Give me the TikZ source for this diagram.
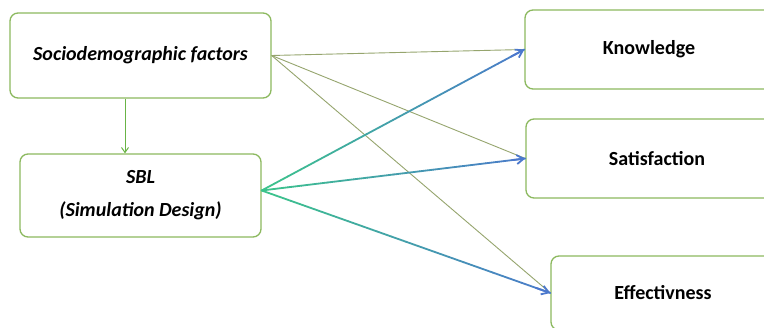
\documentclass[tikz,border=0pt]{standalone}
\usepackage{fontspec}
\setmainfont{Carlito}
\usetikzlibrary{calc,arrows.meta}
\definecolor{boxgreen}{RGB}{140,185,95}
\definecolor{socline}{RGB}{150,165,110}
\definecolor{arrgreen}{RGB}{105,180,70}
\definecolor{gstart}{RGB}{60,195,140}
\definecolor{gend}{RGB}{75,120,205}
\newcommand\gradarrow[2]{%
  \foreach \i in {0,...,19}{%
    \pgfmathtruncatemacro\p{\i*5}%
    \pgfmathsetmacro\a{\i/20}%
    \pgfmathsetmacro\b{(\i+1)/20}%
    \draw[gradline, color=gend!\p!gstart] ($(#1)!\a!(#2)$) -- ($(#1)!\b!(#2)$);
  }%
  \draw[gradline, gend, -{Straight Barb[length=7pt,width=9pt]}] ($(#1)!0.95!(#2)$) -- (#2);
}
\begin{document}
\begin{tikzpicture}[x=1pt,y=-1pt,
  box/.style={draw=boxgreen,line width=1.3pt,rounded corners=8pt,inner sep=0pt,
    font=\fontsize{20}{33}\selectfont, align=center},
  gradline/.style={line width=1.8pt,line cap=round},
  thinline/.style={socline,line width=0.9pt}]
\useasboundingbox (0,0) rectangle (764,328);
\clip (0,0) rectangle (764,328);
\fill[white] (0,0) rectangle (764,328);
\node[box,minimum width=261pt,minimum height=85pt] (soc) at (140.5,55.5)
  {\bfseries\itshape Sociodemographic factors};
\node[box,minimum width=241pt,minimum height=83pt] (sbl) at (140.5,195.5)
  {\bfseries\itshape SBL\\\bfseries\itshape (Simulation Design)};
\node[box,minimum width=248pt,minimum height=79pt] (kno) at (649,49.5)
  {\bfseries Knowledge};
\node[box,minimum width=262pt,minimum height=79pt] (sat) at (657,158.5)
  {\bfseries Satisfaction};
\node[box,minimum width=224pt,minimum height=74pt] (eff) at (663,293)
  {\bfseries Effectivness};
\coordinate (sblout) at ($(sbl.east)+(0,-5)$);
\draw[arrgreen,line width=1pt,-{Straight Barb[length=5pt,width=7pt]}] (soc.south -| 125,0) -- (sbl.north -| 125,0);
\draw[thinline] (soc.east) -- (kno.west);
\draw[thinline] (soc.east) -- (sat.west);
\draw[thinline] (soc.east) -- (eff.west);
\gradarrow{sblout}{kno.west}
\gradarrow{sblout}{sat.west}
\gradarrow{sblout}{eff.west}
\end{tikzpicture}
\end{document}
